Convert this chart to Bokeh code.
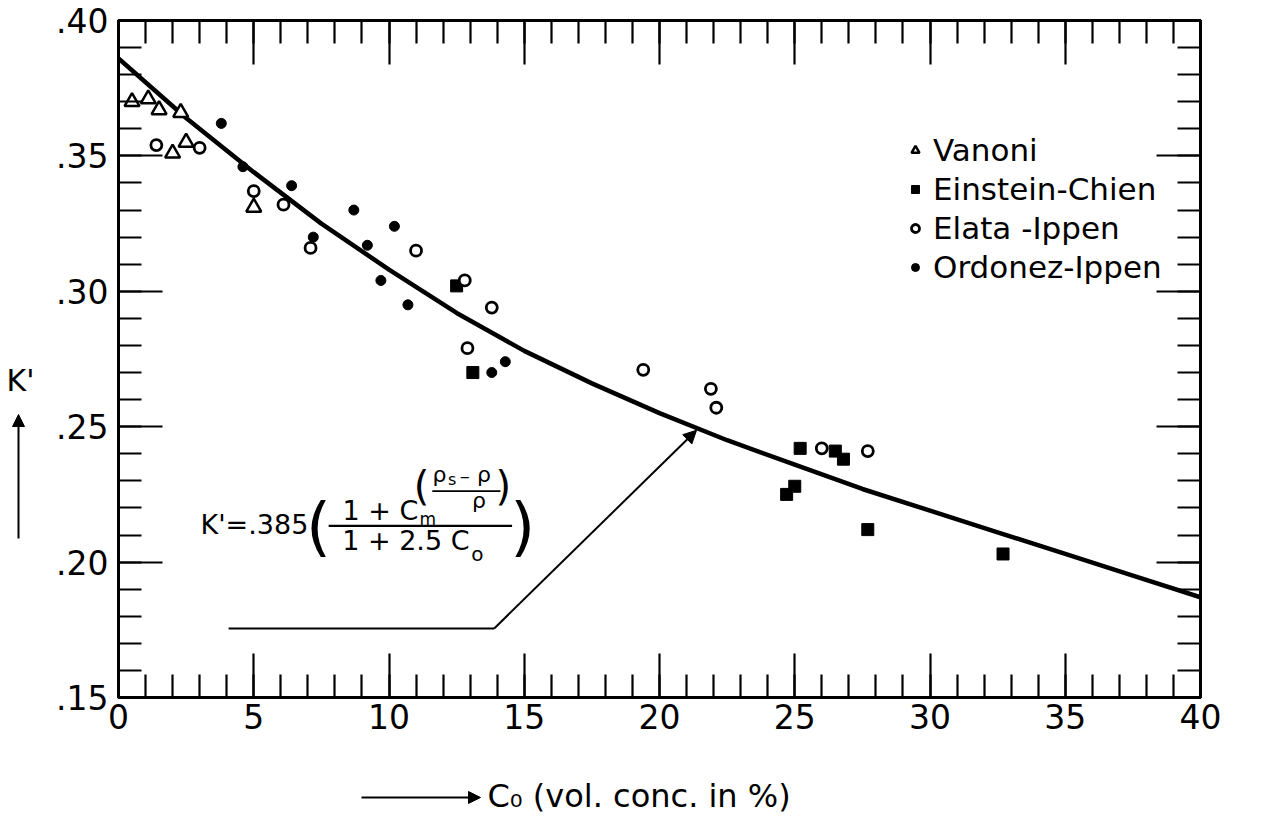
from bokeh.plotting import figure
from bokeh.layouts import row, column
from bokeh.models import (Range1d, LinearAxis, FixedTicker, CustomJSTickFormatter,
                          Label, Arrow, NormalHead, Legend, LegendItem)
from bokeh.embed import file_html
from bokeh.resources import INLINE

# ---------------------------------------------------------------------------
# K' against volumetric concentration C0 (%), four data sets and the fit curve
# ---------------------------------------------------------------------------
vanoni_c = [0.5, 1.1, 1.5, 2.3, 2.0, 2.5, 5.0]
vanoni_k = [0.370, 0.371, 0.367, 0.366, 0.351, 0.355, 0.331]

einstein_c = [12.5, 13.1, 25.2, 26.5, 26.8, 25.0, 24.7, 27.7, 32.7]
einstein_k = [0.302, 0.270, 0.242, 0.241, 0.238, 0.228, 0.225, 0.212, 0.203]

elata_c = [1.4, 3.0, 5.0, 6.1, 7.1, 11.0, 12.8, 12.9, 13.8, 19.4, 21.9, 22.1, 26.0, 27.7]
elata_k = [0.354, 0.353, 0.337, 0.332, 0.316, 0.315, 0.304, 0.279, 0.294, 0.271, 0.264,
           0.257, 0.242, 0.241]

ordonez_c = [3.8, 4.6, 6.4, 7.2, 8.7, 9.2, 9.7, 10.2, 10.7, 13.8, 14.3]
ordonez_k = [0.362, 0.346, 0.339, 0.320, 0.330, 0.317, 0.304, 0.324, 0.295, 0.270, 0.274]

curve_c = [0, 2.5, 5, 7.5, 10, 12.5, 15, 17.5, 20, 22.5, 25, 27.5, 30, 32.5, 35, 37.5, 40]
curve_k = [0.386, 0.364, 0.344, 0.325, 0.308, 0.292, 0.278, 0.266, 0.255, 0.245, 0.236,
           0.227, 0.219, 0.211, 0.203, 0.195, 0.187]

x_ticks = [0, 5, 10, 15, 20, 25, 30, 35, 40]
y_ticks = [0.15, 0.20, 0.25, 0.30, 0.35, 0.40]

FONT = "DejaVu Sans"
INK = "black"

SIDE_W = 46      # strip left of the chart holding the K' title
FOOT_H = 59      # strip below the chart holding the C0 title
TOTAL_W, TOTAL_H = 1270, 819


def head(size):
    return NormalHead(size=size, fill_color=INK, line_color=INK, line_width=1)


def bare(width, height, x_range, y_range):
    f = figure(width=width, height=height, x_range=x_range, y_range=y_range,
               x_axis_type=None, y_axis_type=None,
               output_backend="svg", toolbar_location=None, min_border=0)
    f.outline_line_color = None
    f.background_fill_color = "white"
    f.border_fill_color = "white"
    return f


# ---------------------------------------------------------------- main chart
p = figure(width=TOTAL_W - SIDE_W, height=TOTAL_H - FOOT_H,
           x_range=Range1d(0, 40), y_range=Range1d(0.15, 0.40),
           x_axis_type=None, y_axis_type=None,
           output_backend="svg", toolbar_location=None,
           min_border_left=72, min_border_right=70,
           min_border_top=20, min_border_bottom=63)
p.background_fill_color = "white"
p.border_fill_color = "white"
p.outline_line_color = INK
p.outline_line_width = 3

x_ticker = FixedTicker(ticks=x_ticks, minor_ticks=list(range(0, 41)))
y_ticker = FixedTicker(ticks=y_ticks, minor_ticks=[round(0.15 + 0.01 * i, 2) for i in range(26)])
blank = CustomJSTickFormatter(code="return '';")


def frame_axis(ticker, formatter=None):
    ax = LinearAxis(ticker=ticker)
    ax.axis_line_width = 3
    ax.axis_line_color = INK
    ax.major_tick_in = 44
    ax.major_tick_out = 0
    ax.minor_tick_in = 23
    ax.minor_tick_out = 0
    ax.major_tick_line_width = 2.2
    ax.minor_tick_line_width = 2.2
    ax.major_tick_line_color = INK
    ax.minor_tick_line_color = INK
    if formatter is None:
        ax.formatter = blank
        ax.major_label_text_font_size = "0px"
        ax.major_label_standoff = 0
    else:
        ax.formatter = formatter
        ax.major_label_text_font = FONT
        ax.major_label_text_font_size = "33px"
        ax.major_label_text_color = INK
    return ax


bottom_ax = frame_axis(x_ticker, CustomJSTickFormatter(code="return tick.toFixed(0);"))
bottom_ax.major_label_standoff = 6
left_ax = frame_axis(y_ticker, CustomJSTickFormatter(code="return tick.toFixed(2).replace(/^0/, '');"))
left_ax.major_label_standoff = 10
p.add_layout(bottom_ax, "below")
p.add_layout(left_ax, "left")
p.add_layout(frame_axis(x_ticker), "above")
p.add_layout(frame_axis(y_ticker), "right")

# fitted curve, then the measurements on top of it
p.line(curve_c, curve_k, line_width=4.5, line_color=INK, line_join="round")

r_van = p.scatter(vanoni_c, vanoni_k, marker="triangle", size=15,
                  fill_color="white", line_color=INK, line_width=2.5)
r_ein = p.scatter(einstein_c, einstein_k, marker="square", size=12,
                  fill_color=INK, line_color=INK, line_width=1)
r_ela = p.scatter(elata_c, elata_k, marker="circle", size=11,
                  fill_color="white", line_color=INK, line_width=2.8)
r_ord = p.scatter(ordonez_c, ordonez_k, marker="circle", size=10,
                  fill_color=INK, line_color=INK, line_width=1)

legend = Legend(items=[LegendItem(label="Vanoni", renderers=[r_van]),
                       LegendItem(label="Einstein-Chien", renderers=[r_ein]),
                       LegendItem(label="Elata -Ippen", renderers=[r_ela]),
                       LegendItem(label="Ordonez-Ippen", renderers=[r_ord])],
                location=(787, 412), glyph_width=20, glyph_height=20,
                label_standoff=8, spacing=3, padding=0, margin=0,
                border_line_color=None, background_fill_alpha=0,
                label_text_font=FONT, label_text_font_size="31px",
                label_text_color=INK)
p.add_layout(legend)


def note(fig, x, y, text, size, align="left"):
    fig.add_layout(Label(x=x, y=y, text=text, text_font=FONT, text_font_size=size,
                         text_align=align, text_baseline="middle", text_color=INK))


# formula of the fitted curve
note(p, 3.03, 0.2140, "K'=.385", "27px")
note(p, 7.39, 0.2131, "(", "64px", align="center")
note(p, 8.28, 0.2190, "1 + C", "27px")
note(p, 11.13, 0.2160, "m", "17px")
note(p, 11.20, 0.2281, "(", "40px", align="center")
note(p, 11.61, 0.2322, "\u03c1", "22px")
note(p, 12.18, 0.2306, "s", "16px")
note(p, 12.62, 0.2318, "\u2013", "20px")
note(p, 13.25, 0.2322, "\u03c1", "22px")
note(p, 13.33, 0.2226, "\u03c1", "22px", align="center")
note(p, 14.23, 0.2281, ")", "40px", align="center")
note(p, 8.27, 0.2079, "1 + 2.5 C", "27px")
note(p, 13.27, 0.2030, "o", "20px", align="center")
note(p, 14.94, 0.2131, ")", "64px", align="center")

p.segment(x0=[11.60, 7.77], y0=[0.2262, 0.2134], x1=[14.12, 14.55], y1=[0.2262, 0.2134],
          line_color=INK, line_width=[1.8, 2.2])

# leader from the formula to the curve
p.line([4.07, 13.89], [0.1755, 0.1755], line_color=INK, line_width=2)
p.add_layout(Arrow(x_start=13.89, y_start=0.1755, x_end=21.37, y_end=0.2487,
                   line_width=2, line_color=INK, end=head(13)))

# ---------------------------------------------------------------- axis titles
# the side strip shares the chart's K' scale (its frame lines up with the chart)
side = bare(SIDE_W, TOTAL_H - FOOT_H, Range1d(0, SIDE_W), p.y_range)
note(side, 20, 0.267, "K'", "30px", align="center")
side.add_layout(Arrow(x_start=18, y_start=0.2087, x_end=18, y_end=0.2545,
                      line_width=2, line_color=INK, end=head(12)))

foot = bare(TOTAL_W, FOOT_H, Range1d(0, TOTAL_W), Range1d(TOTAL_H, TOTAL_H - FOOT_H))
note(foot, 487, 795, "C\u2080 (vol. conc. in %)", "32px")
foot.add_layout(Arrow(x_start=361, y_start=797, x_end=480, y_end=797,
                      line_width=2, line_color=INK, end=head(12)))

layout = column(row(side, p, spacing=0), foot, spacing=0)
open("out.html", "w").write(file_html(layout, INLINE))
